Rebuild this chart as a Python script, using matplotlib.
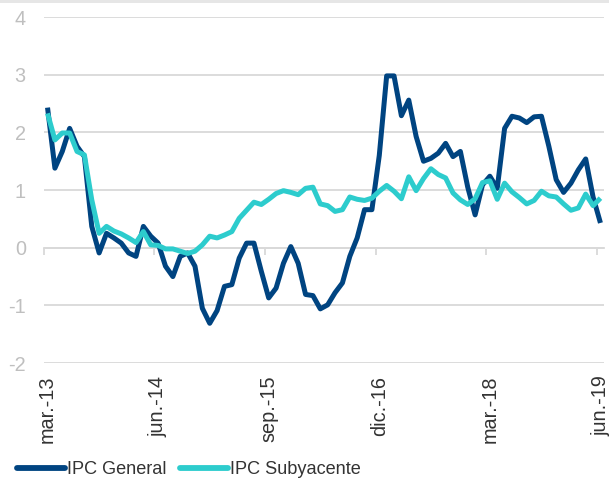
import matplotlib
matplotlib.use('Agg')

import matplotlib.pyplot as plt
import numpy as np

plt.rcParams['font.family'] = ['Liberation Sans', 'DejaVu Sans']
plt.rcParams['axes.unicode_minus'] = False

# monthly, mar-13 .. jun-19 (76 months)
ipc_general = [
    2.43, 1.38, 1.67, 2.07, 1.76, 1.58, 0.37, -0.09, 0.25, 0.17,
    0.08, -0.09, -0.15, 0.37, 0.20, 0.08, -0.32, -0.50, -0.15, -0.09, -0.32, -1.05,
    -1.31, -1.09, -0.67, -0.64, -0.18, 0.08, 0.08, -0.41, -0.87, -0.70, -0.27, 0.02,
    -0.27, -0.81, -0.83, -1.06, -0.99, -0.78, -0.61, -0.15, 0.17, 0.66, 0.66, 1.60,
    2.98, 2.98, 2.29, 2.56, 1.93, 1.50, 1.55, 1.64, 1.81, 1.58, 1.67, 1.05,
    0.57, 1.09, 1.24, 1.03, 2.07, 2.28, 2.25, 2.17, 2.27, 2.28, 1.76, 1.18,
    0.96, 1.12, 1.35, 1.54, 0.88, 0.43,
]
ipc_subyacente = [
    2.33, 1.87, 1.99, 1.99, 1.67, 1.61, 0.83, 0.25, 0.37, 0.29,
    0.24, 0.17, 0.09, 0.28, 0.05, 0.04, -0.02, -0.02, -0.06, -0.10, -0.06, 0.05,
    0.20, 0.17, 0.22, 0.28, 0.51, 0.65, 0.79, 0.75, 0.84, 0.94, 0.99, 0.96,
    0.92, 1.03, 1.05, 0.76, 0.73, 0.63, 0.66, 0.88, 0.84, 0.82, 0.86, 0.98,
    1.08, 0.98, 0.85, 1.23, 0.99, 1.20, 1.37, 1.27, 1.21, 0.95, 0.83, 0.75,
    0.85, 1.13, 1.16, 0.84, 1.12, 0.97, 0.87, 0.76, 0.82, 0.98, 0.90, 0.88,
    0.76, 0.65, 0.69, 0.93, 0.73, 0.86,
]
tick_pos = [0, 15, 30, 45, 60, 75]
tick_labels = ['mar.-13', 'jun.-14', 'sep.-15', 'dic.-16', 'mar.-18', 'jun.-19']
y_ticks = [-2, -1, 0, 1, 2, 3, 4]

x = np.arange(len(ipc_general))

fig = plt.figure(figsize=(6.09, 4.88), dpi=100)
ax = fig.add_axes([0.072, 0.256, 0.92, 0.709])

grid_col = '#D9D9D9'
ax.plot(x, ipc_general, color='#004481', lw=3.6, label='IPC General',
        solid_joinstyle='round', solid_capstyle='butt', zorder=3)
ax.plot(x, ipc_subyacente, color='#2DCCCD', lw=3.6, label='IPC Subyacente',
        solid_joinstyle='round', solid_capstyle='butt', zorder=4)

ax.set_xlim(-0.5, len(x) - 0.5)
ax.set_ylim(-2, 4)
ax.set_yticks(y_ticks)
ax.yaxis.grid(True, color=grid_col, lw=1.3)
ax.set_axisbelow(True)
for s in ax.spines.values():
    s.set_visible(False)

ax.set_xticks(tick_pos)
ax.set_xticklabels(tick_labels, rotation=90, fontsize=14.3, color='#333333')
ax.tick_params(axis='x', length=0, pad=9)
ax.tick_params(axis='y', length=0, pad=13, labelsize=14.3, labelcolor='#BFBFBF')

# category axis drawn on the zero line, tick marks between categories
ylo, yhi = ax.get_ylim()
sec = ax.secondary_xaxis((0 - ylo) / (yhi - ylo))
sec.set_xticks([p - 0.5 for p in tick_pos])
sec.set_xticklabels([])
sec.tick_params(axis='x', length=5, width=1.3, color=grid_col, direction='out')
sec.spines['bottom'].set_color(grid_col)
sec.spines['bottom'].set_linewidth(1.3)

leg = fig.legend(loc='center left', bbox_to_anchor=(0.028, 0.037), ncol=2,
                 frameon=False, fontsize=13.1, handlelength=2.65, handletextpad=0.08,
                 columnspacing=0.75, borderpad=0, borderaxespad=0,
                 labelcolor='#333333')
for h in leg.get_lines():
    h.set_linewidth(4.2)
    h.set_solid_capstyle('round')

fig.add_artist(plt.Rectangle((0, 1 - 3 / 488), 1, 3 / 488,
                             transform=fig.transFigure, color='#E6E6E6', lw=0))

plt.savefig('out.png', dpi=100)
